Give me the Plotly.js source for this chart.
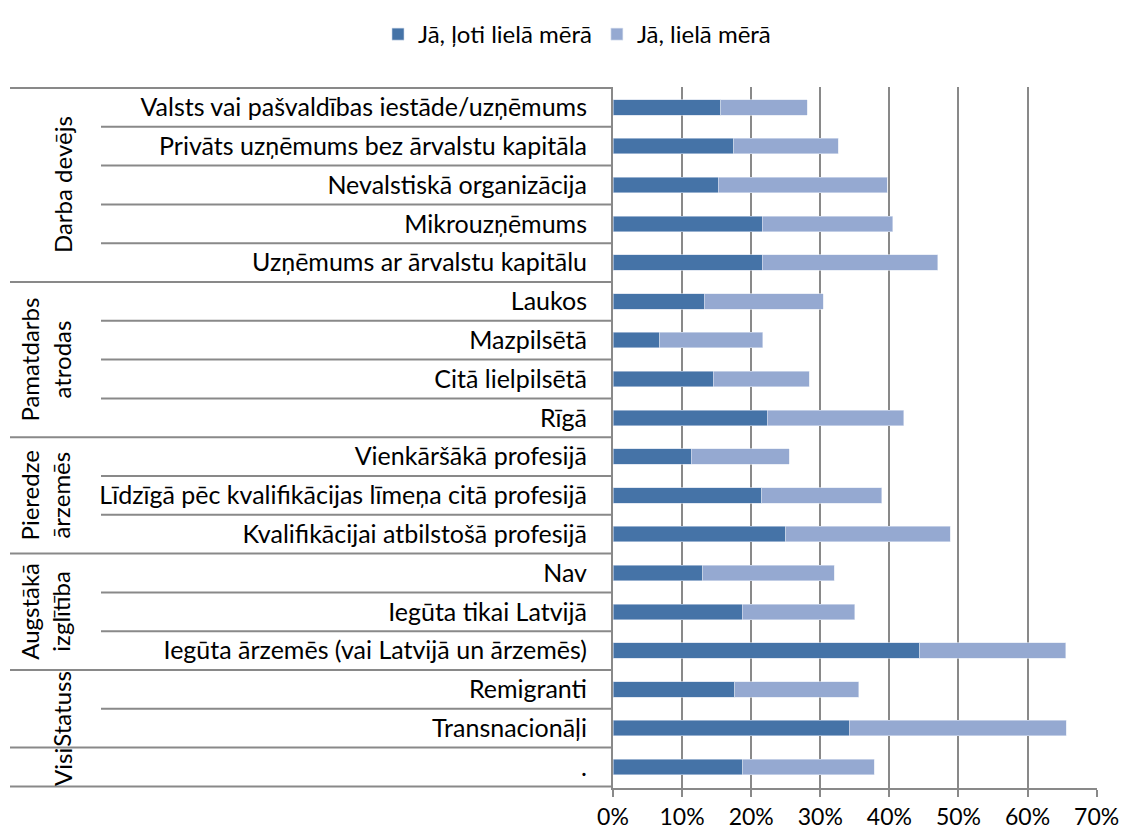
<!DOCTYPE html>
<html>
<head>
<meta charset="utf-8">
<script src="https://cdn.plot.ly/plotly-3.0.1.min.js"></script>
<style>html,body{margin:0;padding:0;background:#fff;}#chart{width:1122px;height:832px;}</style>
</head>
<body>
<div id="chart"></div>
<script>
// ---- data ----
const categories = [
  "Valsts vai pašvaldības iestāde/uzņēmums",
  "Privāts uzņēmums bez ārvalstu kapitāla",
  "Nevalstiskā organizācija",
  "Mikrouzņēmums",
  "Uzņēmums ar ārvalstu kapitālu",
  "Laukos",
  "Mazpilsētā",
  "Citā lielpilsētā",
  "Rīgā",
  "Vienkāršākā profesijā",
  "Līdzīgā pēc kvalifikācijas līmeņa citā profesijā",
  "Kvalifikācijai atbilstošā profesijā",
  "Nav",
  "Iegūta tikai Latvijā",
  "Iegūta ārzemēs (vai Latvijā un ārzemēs)",
  "Remigranti",
  "Transnacionāļi",
  "."
];
const groupLabels = ["Darba devējs", "Pamatdarbs<br>atrodas", "Pieredze<br>ārzemēs", "Augstākā<br>izglītība", "Statuss", "Visi"];
const groupSizes = [5, 4, 3, 3, 2, 1];
const seriesNames = ["Jā, ļoti lielā mērā", "Jā, lielā mērā"];
const veryLarge = [15.6, 17.5, 15.2, 21.6, 21.6, 13.2, 6.8, 14.5, 22.3, 11.3, 21.5, 25.0, 13.0, 18.7, 44.4, 17.6, 34.2, 18.8];
const large     = [12.5, 15.1, 24.5, 18.9, 25.4, 17.2, 14.9, 13.9, 19.8, 14.2, 17.4, 23.8, 19.0, 16.3, 21.1, 18.0, 31.4, 19.0];
const xTickVals = [0, 10, 20, 30, 40, 50, 60, 70];

// ---- layout constants ----
const W = 1122, H = 832;
const plotL = 613, plotR = 1097, plotT = 80, plotB = 788;
const pw = plotR - plotL;
const px2paper = p => (p - plotL) / pw;
const gridCol = '#898989';
const FONT = 'Lato, "Open Sans", sans-serif';
const FS = 24;

const traces = [
  {type: 'bar', orientation: 'h', name: seriesNames[0], y: categories, x: veryLarge,
   marker: {color: '#4573A7', line: {color: '#cfd9ea', width: 0.6}}, hoverinfo: 'x+y'},
  {type: 'bar', orientation: 'h', name: seriesNames[1], y: categories, x: large,
   marker: {color: '#95A9D1', line: {color: '#dfe6f2', width: 0.6}}, hoverinfo: 'x+y'}
];

// separators
const shapes = [];
const groupBounds = new Set();
let acc = 0;
groupBounds.add(0);
groupSizes.forEach(n => { acc += n; groupBounds.add(acc); });
for (let b = 0; b <= categories.length; b++) {
  const isGroup = groupBounds.has(b);
  shapes.push({
    type: 'line', xref: 'paper', yref: 'y',
    x0: px2paper(isGroup ? 10 : 101), x1: px2paper(plotL),
    y0: b - 0.5, y1: b - 0.5,
    line: {color: gridCol, width: 2}
  });
}

// group labels
const annotations = [];
acc = 0;
groupLabels.forEach((lab, i) => {
  const n = groupSizes[i];
  const center = acc + (n - 1) / 2;
  acc += n;
  const twoLine = lab.indexOf('<br>') >= 0;
  annotations.push({
    xref: 'paper', yref: 'y', x: px2paper(twoLine ? 45 : 62), y: center,
    text: lab, showarrow: false, textangle: -90,
    xanchor: 'center', yanchor: 'middle',
    font: {family: FONT, size: FS, color: '#000'}
  });
});

const layout = {
  width: W, height: H,
  margin: {l: plotL, r: W - plotR, t: plotT, b: H - plotB, pad: 0},
  barmode: 'stack',
  bargap: 0.6,
  paper_bgcolor: '#fff', plot_bgcolor: '#fff',
  font: {family: FONT, size: FS, color: '#000'},
  showlegend: true,
  legend: {orientation: 'h', x: px2paper(577), xanchor: 'center', y: (plotB - 27) / (plotB - plotT), yanchor: 'middle',
           font: {family: FONT, size: FS, color: '#000'}, traceorder: 'normal'},
  xaxis: {
    range: [0, 70.05], tickvals: xTickVals, ticktext: xTickVals.map(v => v + '%'),
    showgrid: true, gridcolor: gridCol, gridwidth: 2,
    showline: true, linecolor: gridCol, linewidth: 2,
    ticks: 'outside', ticklen: 7, tickwidth: 2, tickcolor: gridCol,
    zeroline: false, ticklabelstandoff: 0, fixedrange: true,
    tickfont: {family: FONT, size: 23, color: '#000'}
  },
  yaxis: {
    type: 'category', autorange: 'reversed',
    showline: true, linecolor: gridCol, linewidth: 2,
    ticks: '', showgrid: false, zeroline: false,
    ticklabelstandoff: 19, fixedrange: true,
    tickfont: {family: FONT, size: 25, color: '#000'}
  },
  shapes: shapes,
  annotations: annotations
};

Plotly.newPlot('chart', traces, layout, {displayModeBar: false, staticPlot: true});
</script>
</body>
</html>
